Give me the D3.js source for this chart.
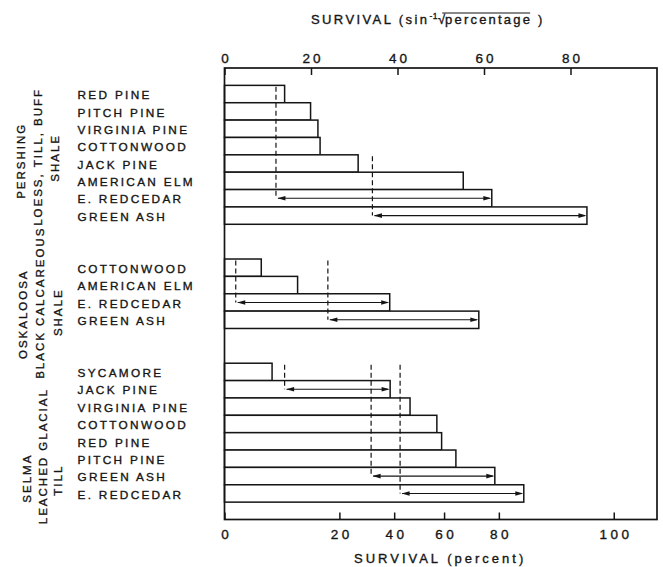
<!DOCTYPE html>
<html><head><meta charset="utf-8">
<script src="https://cdn.jsdelivr.net/npm/d3@7"></script>
<style>
body{margin:0;background:#fff;}
svg text{font-family:"Liberation Sans",Arial,sans-serif;fill:#151515;stroke:#151515;stroke-width:0.35px;}
</style></head><body>
<svg id="chart" width="663" height="567"></svg>
<script>
// ---------------- DATA (survival in degrees, sin^-1 sqrt(percentage)) ----------------
const groupLines = [
  ["PERSHING", "LOESS, TILL, BUFF", "SHALE"],
  ["OSKALOOSA", "BLACK CALCAREOUS", "SHALE"],
  ["SELMA", "LEACHED GLACIAL", "TILL"]
];
const pershingSpecies = ["RED PINE","PITCH PINE","VIRGINIA PINE","COTTONWOOD","JACK PINE","AMERICAN ELM","E. REDCEDAR","GREEN ASH"];
const pershingValues  = [13.9, 19.9, 21.6, 22.1, 30.9, 55.2, 61.8, 83.8];
const oskaloosaSpecies = ["COTTONWOOD","AMERICAN ELM","E. REDCEDAR","GREEN ASH"];
const oskaloosaValues  = [8.5, 16.9, 38.2, 58.8];
const selmaSpecies = ["SYCAMORE","JACK PINE","VIRGINIA PINE","COTTONWOOD","RED PINE","PITCH PINE","GREEN ASH","E. REDCEDAR"];
const selmaValues  = [11.0, 38.3, 42.9, 49.1, 50.2, 53.5, 62.5, 69.2];
// least-significant-difference ranges: start value, species where dashed line begins, species with arrow
const pershingLsdStart = [11.9, 34.2];
const pershingLsdFrom  = ["RED PINE", "JACK PINE"];
const pershingLsdTo    = ["E. REDCEDAR", "GREEN ASH"];
const oskaloosaLsdStart = [2.6, 23.9];
const oskaloosaLsdFrom  = ["COTTONWOOD", "COTTONWOOD"];
const oskaloosaLsdTo    = ["E. REDCEDAR", "GREEN ASH"];
const selmaLsdStart = [13.9, 33.9, 40.6];
const selmaLsdFrom  = ["SYCAMORE", "SYCAMORE", "SYCAMORE"];
const selmaLsdTo    = ["JACK PINE", "GREEN ASH", "E. REDCEDAR"];
const topTicks = [0, 20, 40, 60, 80];          // degrees
const bottomTicks = [0, 20, 40, 60, 80, 100];  // percent
const topTitle = ["SURVIVAL (sin", "-1", "\u221A", "percentage", " )"];
const bottomTitle = "SURVIVAL (percent)";

// ---------------- LAYOUT ----------------
const svg = d3.select("#chart");
const x = d3.scaleLinear().domain([0, 100]).range([224.5, 657]);
const toDeg = p => Math.asin(Math.sqrt(p / 100)) * 180 / Math.PI;
const xPct = d3.scaleLinear().domain(bottomTicks).range(bottomTicks.map(p => x(toDeg(p))));

const groups = [
  {key:"P", species:pershingSpecies, values:pershingValues, lsdS:pershingLsdStart, lsdF:pershingLsdFrom, lsdT:pershingLsdTo,
   lines:groupLines[0], lx:[25,42,59], ly:[7,3,4]},
  {key:"O", species:oskaloosaSpecies, values:oskaloosaValues, lsdS:oskaloosaLsdStart, lsdF:oskaloosaLsdFrom, lsdT:oskaloosaLsdTo,
   lines:groupLines[1], lx:[26.5,43.5,61.5], ly:[21.5,10,19.5]},
  {key:"S", species:selmaSpecies, values:selmaValues, lsdS:selmaLsdStart, lsdF:selmaLsdFrom, lsdT:selmaLsdTo,
   lines:groupLines[2], lx:[30.5,46.5,61.5], ly:[46.5,24.5,48.5]}
];
const rowKeys = ["pad0"];
groups.forEach((g, i) => {
  if (i > 0) rowKeys.push("gap" + i + "a", "gap" + i + "b");
  g.species.forEach(s => rowKeys.push(g.key + "|" + s));
});
rowKeys.push("pad1");
const y = d3.scaleBand().domain(rowKeys).range([68, 519.5]).padding(0);
const bw = y.bandwidth();

const ink = "#151515";

// bars
groups.forEach(g => {
  svg.append("g").selectAll("rect").data(g.species.map((s, i) => ({s, v:g.values[i]})))
    .join("rect")
    .attr("x", x(0)).attr("y", d => y(g.key + "|" + d.s))
    .attr("width", d => x(d.v) - x(0)).attr("height", bw)
    .attr("fill", "#fff").attr("stroke", ink).attr("stroke-width", 1.5);
});

// frame
svg.append("rect").attr("x", x(0)).attr("y", 68).attr("width", x(100) - x(0)).attr("height", 519.5 - 68)
  .attr("fill", "none").attr("stroke", ink).attr("stroke-width", 1.7);

// LSD ranges
groups.forEach(g => {
  g.lsdS.forEach((s, i) => {
    const xs = x(s);
    const target = g.lsdT[i];
    const xe = x(g.values[g.species.indexOf(target)]);
    const ya = y(g.key + "|" + target) + bw / 2;
    const yt = y(g.key + "|" + g.lsdF[i]) + 1.5;
    svg.append("line").attr("x1", xs).attr("x2", xs).attr("y1", yt).attr("y2", ya)
      .attr("stroke", ink).attr("stroke-width", 1.2).attr("stroke-dasharray", "5,3");
    svg.append("line").attr("x1", xs + 2).attr("x2", xe - 2).attr("y1", ya).attr("y2", ya)
      .attr("stroke", ink).attr("stroke-width", 1.1);
    svg.append("path").attr("d", `M${xs+1.5},${ya} l8,-2.3 l0,4.6 Z`).attr("fill", ink);
    svg.append("path").attr("d", `M${xe-0.5},${ya} l-8,-2.3 l0,4.6 Z`).attr("fill", ink);
  });
});

// species labels
groups.forEach(g => {
  svg.append("g").selectAll("text").data(g.species).join("text")
    .attr("x", 77.5).attr("y", d => y(g.key + "|" + d) + bw / 2 + 5.2)
    .attr("font-size", 11.8).attr("letter-spacing", 2.3).text(d => d);
});

// group labels (rotated)
groups.forEach(g => {
  const c = (y(g.key + "|" + g.species[0]) + y(g.key + "|" + g.species[g.species.length - 1]) + bw) / 2;
  g.lines.forEach((t, i) => {
    svg.append("text").attr("transform", `translate(${g.lx[i]},${c + g.ly[i]}) rotate(-90)`)
      .attr("text-anchor", "middle").attr("font-size", 11.5).attr("letter-spacing", 2).attr("dx", 1).text(t);
  });
});

// top axis
const gTop = svg.append("g").attr("transform", "translate(0,68)")
  .call(d3.axisTop(x).tickValues(topTicks).tickSize(-7).tickPadding(5.5).tickFormat(d3.format("d")));
gTop.select(".domain").remove();
gTop.selectAll(".tick line").attr("stroke", ink).attr("stroke-width", 1.5);
gTop.selectAll(".tick text").attr("font-size", 13.5).attr("letter-spacing", 3).attr("dx", 1.5)
  .attr("fill", ink).attr("font-family", null);
gTop.attr("font-family", null);

// bottom axis
const gBot = svg.append("g").attr("transform", "translate(0,519.5)")
  .call(d3.axisBottom(xPct).tickValues(bottomTicks).tickSize(-7).tickPadding(10).tickFormat(d3.format("d")));
gBot.select(".domain").remove();
gBot.selectAll(".tick line").attr("stroke", ink).attr("stroke-width", 1.5);
gBot.selectAll(".tick text").attr("font-size", 13.5).attr("letter-spacing", 3.5).attr("dx", 1.75)
  .attr("fill", ink).attr("font-family", null);
gBot.attr("font-family", null);

// titles
const tt = svg.append("text").attr("x", 311).attr("y", 24).attr("font-size", 13).attr("letter-spacing", 2.4);
tt.append("tspan").text(topTitle[0]);
tt.append("tspan").attr("font-size", 8.5).attr("dy", -5).attr("letter-spacing", 0.5).text(topTitle[1]);
tt.append("tspan").attr("dy", 5).attr("letter-spacing", 0).text(topTitle[2]);
tt.append("tspan").attr("letter-spacing", 2.2).text(topTitle[3]);
tt.append("tspan").attr("letter-spacing", 2.2).text(topTitle[4]);
{
  const node = tt.node();
  const i0 = topTitle[0].length + topTitle[1].length;
  const i1 = i0 + 1 + topTitle[3].length - 1;
  const a = node.getExtentOfChar(i0), b = node.getExtentOfChar(i1);
  svg.append("line").attr("x1", a.x + a.width * 0.6).attr("x2", b.x + b.width - 2)
    .attr("y1", a.y + 1).attr("y2", a.y + 1).attr("stroke", ink).attr("stroke-width", 1.1);
}
svg.append("text").attr("x", 354).attr("y", 563).attr("font-size", 13).attr("letter-spacing", 3).text(bottomTitle);
</script></body></html>
